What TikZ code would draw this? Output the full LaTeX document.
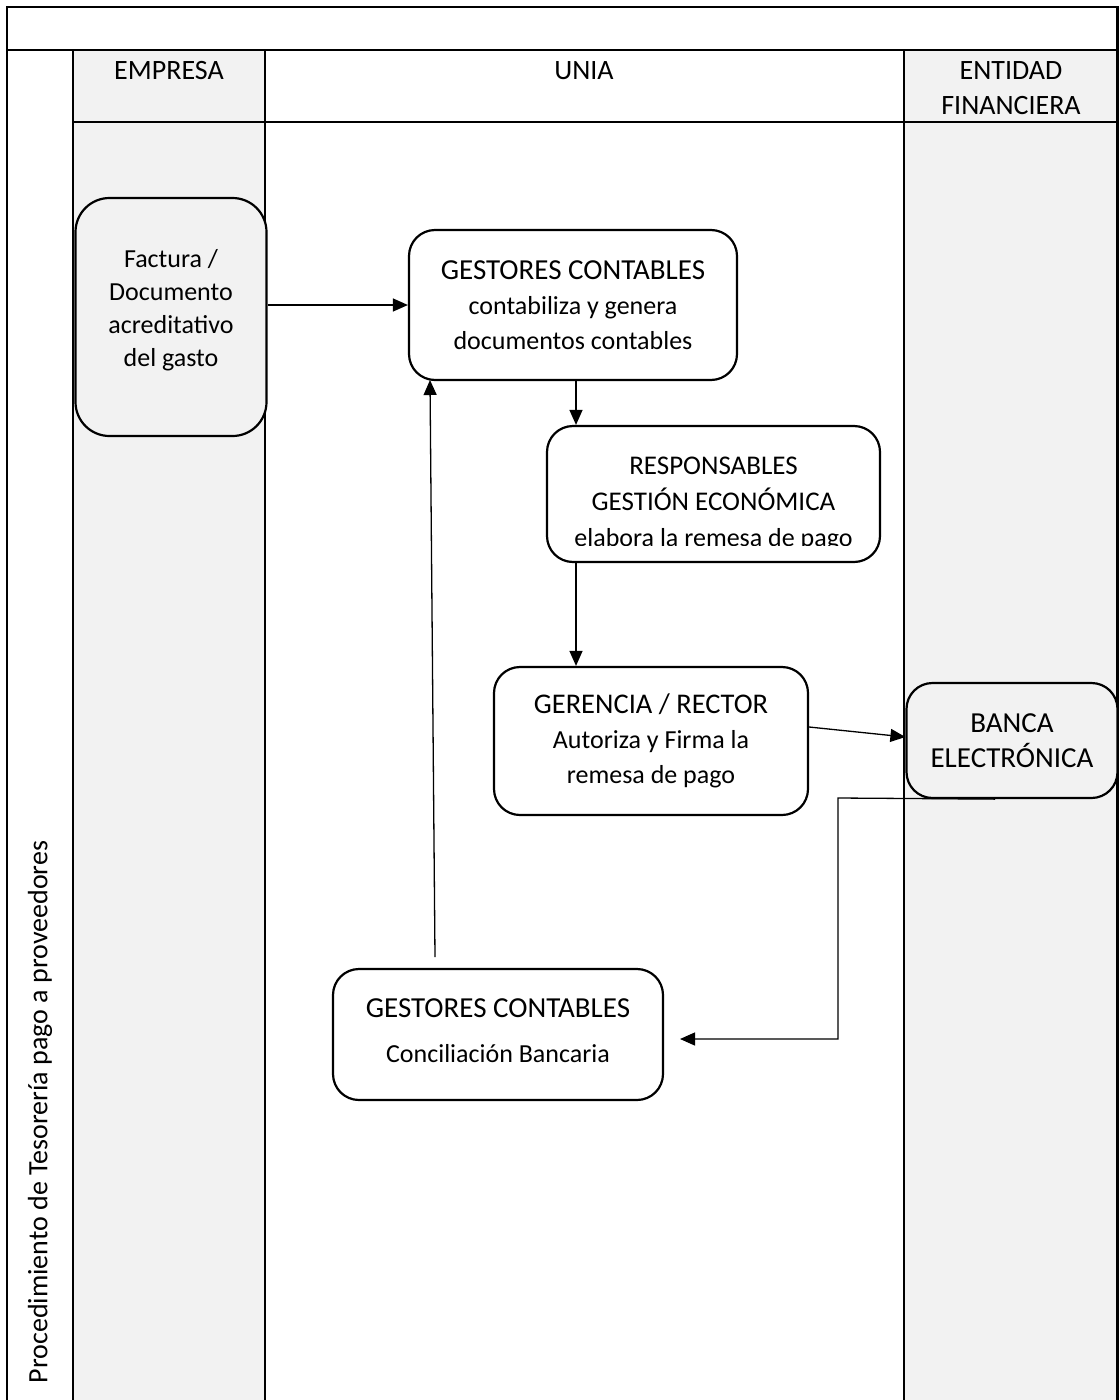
\documentclass[tikz,border=0pt]{standalone}
\usepackage{fontspec}
\setmainfont{Carlito}
\usetikzlibrary{arrows.meta}
\definecolor{lanegray}{HTML}{F2F2F2}
\tikzset{
  lane/.style={line width=2.6pt, draw=black},
  proc/.style={draw=black, line width=2.2pt, rounded corners=26pt, fill=white,
    align=center, inner sep=0pt, font=\fontsize{26}{35}\selectfont},
  txt/.style={align=center, inner sep=0pt, font=\fontsize{26}{33}\selectfont},
  arr/.style={line width=1.3pt, -{Triangle[length=15pt,width=13pt]}},
  hdr/.style={align=center, font=\fontsize{28}{35}\selectfont, inner sep=0pt}
}
\newcommand{\bigt}{\fontsize{29}{35}\selectfont}
\begin{document}
\begin{tikzpicture}[x=1pt,y=-1pt]
\useasboundingbox (0,0) rectangle (1119,1400);
% lanes
\fill[lanegray] (73,50) rectangle (265,1400);
\fill[lanegray] (904,50) rectangle (1119,1400);
\draw[lane] (7,1400) -- (7,7) -- (1117.5,7) -- (1117.5,1400);
\draw[lane] (7,50) -- (1117.5,50);
\draw[lane] (73,122) -- (1117.5,122);
\draw[lane] (73,50) -- (73,1400);
\draw[lane] (265,50) -- (265,1400);
\draw[lane] (904,50) -- (904,1400);
% headers
\node[hdr] (hemp) at (169,71) {EMPRESA};
\node[hdr] (hunia) at (584,71) {UNIA};
\node[hdr] (hent) at (1011,88) {ENTIDAD\\FINANCIERA};
\node[hdr, rotate=90] (title) at (40,1112) {Procedimiento de Tesorería pago a proveedores};
% process boxes
\node[proc, fill=lanegray, rounded corners=34pt, minimum width=191pt, minimum height=238pt] (fact) at (171,317) {};
\node[txt] (facttxt) at (171,310) {Factura /\\Documento\\acreditativo\\del gasto};
\node[proc, minimum width=328pt, minimum height=150pt] (gc1) at (573,305)
  {{\bigt GESTORES CONTABLES}\\contabiliza y genera\\documentos contables};
\node[proc, minimum width=333pt, minimum height=136pt] (resp) at (713.5,494) {};
\begin{scope}
\clip (540,420) rectangle (890,545);
\node[align=center, inner sep=0pt, font=\fontsize{26}{36}\selectfont, anchor=base] (resptxt) at (713.5,546)
  {{\fontsize{27}{36}\selectfont RESPONSABLES}\\{\fontsize{27}{36}\selectfont GESTIÓN ECONÓMICA}\\elabora la remesa de pago};
\end{scope}
\node[proc, minimum width=314pt, minimum height=148pt] (ger) at (651,741)
  {{\fontsize{28.5}{36}\selectfont GERENCIA / RECTOR}\\Autoriza y Firma la\\remesa de pago};
\node[proc, fill=lanegray, minimum width=211pt, minimum height=115pt] (banca) at (1012,740.5)
  {{\fontsize{29}{37}\selectfont BANCA}\\{\fontsize{29}{37}\selectfont ELECTRÓNICA}};
\node[proc, minimum width=330pt, minimum height=131pt] (gc2) at (498,1034.5) {};
\node[txt] (gc2txt) at (498,1031)
  {{\bigt GESTORES CONTABLES}\\[12pt]Conciliación Bancaria};
% free ends
\coordinate (gc2in) at (680,1039);
\coordinate (bendb) at (838,798);
\coordinate (gc2out) at (435,957);
\coordinate (gc1in) at (430,380);
% connectors
\draw[arr] (fact.east |- gc1.west) -- (gc1.west);
\draw[arr] ([xshift=3pt]gc1.south) -- ([xshift=3pt]gc1.south |- resp.north);
\draw[arr] ([xshift=3pt]gc1.south |- resp.south) -- ([xshift=3pt]gc1.south |- ger.north);
\draw[arr] ([yshift=14pt]ger.east) -- ([yshift=3.5pt]banca.west);
\draw[arr] ([xshift=-17pt]banca.south) -- (bendb) |- (gc2in);
\draw[arr] (gc2out) -- (gc1in);
\end{tikzpicture}
\end{document}
